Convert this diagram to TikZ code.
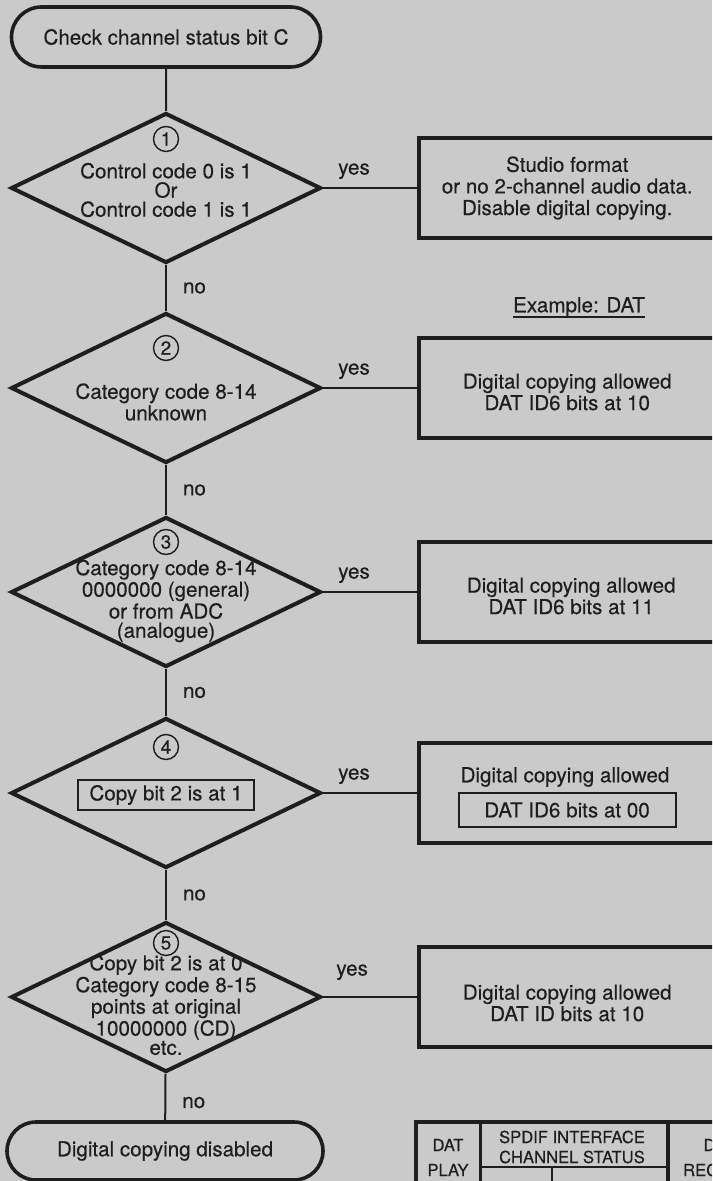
\documentclass[tikz,border=0pt]{standalone}
\usepackage{fontspec}
\setmainfont{TeX Gyre Heros}[FakeBold=0.35]
\usepackage{tikz}
\usetikzlibrary{shapes.geometric,shapes.misc,positioning}
\usepackage{xcolor}
\definecolor{paper}{RGB}{202,202,202}
\definecolor{ink}{RGB}{30,30,30}
\newcommand{\chartfont}{\fontsize{10.3}{9.6}\selectfont}
\newcommand{\numfont}{\fontsize{9.5}{9.5}\selectfont}
\newcommand{\tablefont}{\fontsize{8.3}{10}\selectfont}

\begin{document}
\begin{tikzpicture}[x=0.5pt,y=-0.5pt,
  every node/.style={text=ink,font=\chartfont,align=center,inner sep=0pt},
  terminal/.style={draw=ink,line width=1.8pt,rounded rectangle,minimum width=154.5pt,minimum height=30pt},
  decision/.style={draw=ink,line width=2pt,diamond,minimum width=155pt,minimum height=75pt},
  action/.style={draw=ink,line width=2.2pt,minimum width=160pt,minimum height=50pt},
  stepnum/.style={draw=ink,circle,line width=0.7pt,minimum size=12.5pt,font=\numfont},
  framed/.style={draw=ink,line width=1pt},
  flow/.style={ink,line width=1pt},
  cell/.style={font=\tablefont}]
\useasboundingbox (0,0) rectangle (712,1181);
\clip (0,0) rectangle (712,1181);
\fill[paper] (0,0) rectangle (712,1181);

% main column
\node[terminal] (start) at (166,37) {Check channel status bit C};
\node[decision] (d1) at (166,188) {};
\node[decision] (d2) at (166,388) {};
\node[decision] (d3) at (166,592) {};
\node[decision] (d4) at (166,793) {};
\node[decision] (d5) at (166,997) {};
\node[terminal,minimum width=158pt,minimum height=29pt] (stop) at (165,1151) {Digital copying disabled};

\node[stepnum] (n1) at (166,139) {1};
\node[stepnum] (n2) at (166,348) {2};
\node[stepnum] (n3) at (166,542) {3};
\node[stepnum] (n4) at (166,747) {4};
\node[stepnum] (n5) at (166,943) {5};

\node (q1) at (166,190) {Control code 0 is 1\\Or\\Control code 1 is 1};
\node (q2) at (166,402) {Category code 8-14\\unknown};
\node (q3) at (166,601) {Category code 8-14\\0000000 (general)\\or from ADC\\(analogue)};
\node[framed,minimum width=88pt,minimum height=15pt] (q4) at (166,795) {Copy bit 2 is at 1};
\node (q5) at (166,1005) {Copy bit 2 is at 0\\Category code 8-15\\points at original\\10000000 (CD)\\etc.};

% result boxes
\node[action,right=47pt of d1] (b1) {};
\node[action,right=47pt of d2] (b2) {};
\node[action,right=47pt of d3] (b3) {};
\node[action,right=47pt of d4] (b4) {};
\node[action,right=47pt of d5] (b5) {};

\node[font=\fontsize{10.3}{10.8}\selectfont] (r1) at ([xshift=-6pt]b1.center) {Studio format\\or no 2-channel audio data.\\Disable digital copying.};
\node (r2) at ([xshift=-6pt,yshift=-2pt]b2.center) {Digital copying allowed\\DAT ID6 bits at 10};
\node (r3) at ([xshift=-4pt,yshift=-2pt]b3.center) {Digital copying allowed\\DAT ID6 bits at 11};
\node (r4) at (565,777) {Digital copying allowed};
\node[framed,minimum width=108.5pt,minimum height=17pt] (r4b) at (567,810) {DAT ID6 bits at 00};
\node (r5) at ([xshift=-6pt,yshift=-3pt]b5.center) {Digital copying allowed\\DAT ID bits at 10};

\node[inner ysep=0pt] (ex) at (579,307) {Example: DAT};
\draw[ink,line width=1pt] (ex.south west) -- (ex.south east);

% connectors
\draw[flow] (start) -- (d1);
\draw[flow] (d1) -- node[right=8pt] (no1) {no} (d2);
\draw[flow] (d2) -- node[right=8pt] (no2) {no} (d3);
\draw[flow] (d3) -- node[right=8pt] (no3) {no} (d4);
\draw[flow] (d4) -- node[right=8pt] (no4) {no} (d5);
\draw[flow] (d5) -- node[pos=0.62,right=8pt] (no5) {no} (stop);
\draw[flow] (d1) -- node[pos=0.33,above=4pt] (yes1) {yes} (b1);
\draw[flow] (d2) -- node[pos=0.33,above=4pt] (yes2) {yes} (b2);
\draw[flow] (d3) -- node[pos=0.33,above=4pt] (yes3) {yes} (b3);
\draw[flow] (d4) -- node[pos=0.33,above=4pt] (yes4) {yes} (b4);
\draw[flow] (d5) -- node[pos=0.31,above=8pt] (yes5) {yes} (b5);

% bit table
\draw[ink,line width=2pt] (416,1195) -- (416,1122) -- (740,1122);
\draw[ink,line width=1.5pt] (480,1122) -- (480,1195);
\draw[ink,line width=2pt] (668,1122) -- (668,1195);
\draw[ink,line width=1pt] (480,1167) -- (668,1167);
\draw[ink,line width=1pt] (552,1167) -- (552,1195);
\node[cell] (tdat) at (448,1145) {DAT};
\node[cell] (tplay) at (448,1170) {PLAY};
\node[cell] (tspdif) at (572,1147) {SPDIF INTERFACE\\CHANNEL STATUS};
\node[cell] (tcopy) at (516,1190) {COPY};
\node[cell] (tcat) at (610,1190) {CATEGORY};
\node[cell] (trdat) at (719,1145) {DAT};
\node[cell] (trec) at (719,1170) {RECORD};
\end{tikzpicture}
\end{document}
